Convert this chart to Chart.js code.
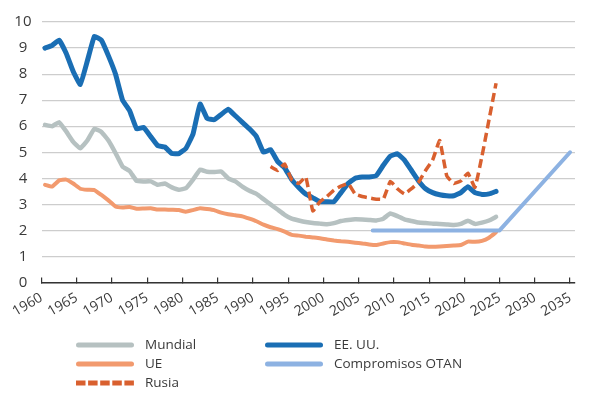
<!DOCTYPE html>
<html>
<head>
<meta charset="utf-8">
<script src="https://cdn.jsdelivr.net/npm/chart.js@4.4.1/dist/chart.umd.min.js"></script>
<style>
  html, body { margin: 0; padding: 0; background: #fff; }
</style>
</head>
<body>
<canvas id="gasto_chart" width="597" height="399"></canvas>
<script>
// gasto militar (% PIB) -------------------------------------------------------
const firstYear = 1960;
const rusiaFirstYear = 1992;
const tickYears = [1960, 1965, 1970, 1975, 1980, 1985, 1990, 1995, 2000, 2005, 2010, 2015, 2020, 2025, 2030, 2035];

// annual series, 1960-2024
const mundial = [6.05, 6.0, 6.15, 5.8, 5.4, 5.15, 5.45, 5.9, 5.78, 5.45,
  4.97, 4.45, 4.28, 3.9, 3.88, 3.88, 3.75, 3.8, 3.65, 3.56,
  3.62, 3.95, 4.33, 4.25, 4.24, 4.26, 4.0, 3.88, 3.68, 3.52,
  3.4, 3.2, 3.0, 2.8, 2.6, 2.45, 2.38, 2.32, 2.28, 2.26,
  2.24, 2.28, 2.36, 2.4, 2.43, 2.42, 2.4, 2.38, 2.45, 2.65,
  2.55, 2.42, 2.36, 2.3, 2.28, 2.26, 2.25, 2.23, 2.21, 2.25,
  2.37, 2.25, 2.3, 2.38, 2.52];

const ue = [3.75, 3.68, 3.92, 3.95, 3.8, 3.6, 3.56, 3.55, 3.36, 3.15,
  2.92, 2.88, 2.9, 2.83, 2.84, 2.85, 2.8, 2.8, 2.79, 2.78,
  2.72, 2.78, 2.85, 2.82, 2.78, 2.68, 2.62, 2.58, 2.54, 2.45,
  2.35, 2.22, 2.12, 2.05, 1.95, 1.83, 1.8, 1.76, 1.73, 1.7,
  1.65, 1.61, 1.58, 1.56, 1.53, 1.5, 1.46, 1.44, 1.5, 1.55,
  1.55, 1.5, 1.45, 1.42, 1.38, 1.37, 1.38, 1.4, 1.42, 1.44,
  1.57, 1.56, 1.6, 1.72, 1.93];

const eeuu = [9.0, 9.1, 9.3, 8.8, 8.1, 7.6, 8.5, 9.45, 9.3, 8.7,
  8.0, 7.0, 6.6, 5.9, 5.95, 5.6, 5.25, 5.2, 4.95, 4.95,
  5.15, 5.7, 6.85, 6.3, 6.25, 6.45, 6.65, 6.4, 6.15, 5.9,
  5.6, 5.0, 5.1, 4.65, 4.4, 3.95, 3.65, 3.4, 3.25, 3.1,
  3.1, 3.1, 3.45, 3.8, 4.0, 4.05, 4.05, 4.1, 4.5, 4.85,
  4.94, 4.7, 4.3, 3.9, 3.6, 3.45, 3.37, 3.33, 3.33, 3.45,
  3.68, 3.45, 3.38, 3.4, 3.5];

// 1992-2024
const rusia = [4.45, 4.3, 4.55, 3.95, 3.8, 4.05, 2.75, 3.1, 3.3, 3.55,
  3.7, 3.8, 3.4, 3.3, 3.25, 3.2, 3.2, 3.88, 3.6, 3.4,
  3.6, 3.85, 4.3, 4.7, 5.45, 4.1, 3.8, 3.9, 4.2, 3.65,
  4.85, 6.25, 7.65];

// compromisos OTAN
const otanYears = [2007, 2025, 2035];
const otan = [2, 2, 5];

const FONT = "'Open Sans', 'Noto Sans', sans-serif";
const TEXT = "#3a3a3a";

// annual values are plotted at mid-year
function annual(startYear, values) {
  return values.map((v, i) => ({ x: startYear + i + 0.5, y: v }));
}

const datasets = [
  { label: "Mundial", data: annual(firstYear, mundial), borderColor: "#b6c1c1", borderWidth: 4.5, order: 5 },
  { label: "EE. UU.", data: annual(firstYear, eeuu), borderColor: "#1a6eb4", borderWidth: 5, order: 3 },
  { label: "UE", data: annual(firstYear, ue), borderColor: "#f29a6e", borderWidth: 4, order: 4 },
  { label: "Compromisos OTAN", data: otanYears.map((yr, i) => ({ x: yr, y: otan[i] })), borderColor: "#8db2e2", borderWidth: 4, order: 2, tension: 0 },
  { label: "Rusia", data: annual(rusiaFirstYear, rusia), borderColor: "#d9602f", borderWidth: 3.5, borderDash: [9, 4.5], order: 1 },
];
datasets.forEach(d => {
  d.fill = false;
  d.pointRadius = 0;
  if (d.tension === undefined) d.tension = 0.1;
  d.borderJoinStyle = "round";
  d.borderCapStyle = d.borderDash ? "butt" : "round";
});

// two-column legend under the axis
const legendCols = [76, 265];
const legendRows = [345, 364, 383];
const gridLegend = {
  id: "gridLegend",
  afterDraw(chart) {
    const c = chart.ctx;
    chart.data.datasets.forEach((ds, i) => {
      const x = legendCols[i % 2];
      const y = legendRows[Math.floor(i / 2)];
      c.save();
      c.strokeStyle = ds.borderColor;
      c.lineWidth = 5;
      c.setLineDash(ds.borderDash ? [9.5, 2.6] : []);
      c.lineCap = ds.borderDash ? "butt" : "round";
      c.beginPath();
      c.moveTo(x + (ds.borderDash ? 0 : 2.5), y);
      c.lineTo(x + 58 - (ds.borderDash ? 0 : 2.5), y);
      c.stroke();
      c.setLineDash([]);
      c.fillStyle = TEXT;
      c.font = "13.5px " + FONT;
      c.textBaseline = "middle";
      c.fillText(ds.label, x + 69, y);
      c.restore();
    });
  },
};

const ctx = document.getElementById("gasto_chart").getContext("2d");
const chart = new Chart(ctx, {
  type: "line",
  data: { datasets: datasets },
  options: {
    responsive: false,
    devicePixelRatio: 1,
    animation: false,
    layout: { padding: { top: 22, right: 22, left: 0, bottom: 0 } },
    plugins: {
      legend: { display: false },
      tooltip: { enabled: false },
    },
    scales: {
      x: {
        type: "linear",
        min: 1960,
        max: 2035.7,
        afterBuildTicks: (s) => { s.ticks = tickYears.map(v => ({ value: v })); },
        afterFit: (s) => { s.height = 116.5; },
        ticks: {
          autoSkip: false,
          minRotation: 30,
          maxRotation: 30,
          padding: 12,
          color: TEXT,
          font: { family: FONT, size: 14 },
          callback: (v) => String(v),
        },
        grid: { drawOnChartArea: false, drawTicks: true, tickLength: -5, color: "#333", lineWidth: 1.2 },
        border: { color: "#333", width: 1.5 },
      },
      y: {
        min: 0,
        max: 10,
        afterFit: (s) => { s.width = 41.5; },
        ticks: {
          stepSize: 1,
          crossAlign: "center",
          padding: 10,
          color: TEXT,
          font: { family: FONT, size: 15 },
        },
        grid: { color: "#cdcdcd", lineWidth: 1.2, drawTicks: false },
        border: { display: false },
      },
    },
  },
  plugins: [gridLegend],
});
</script>
</body>
</html>
